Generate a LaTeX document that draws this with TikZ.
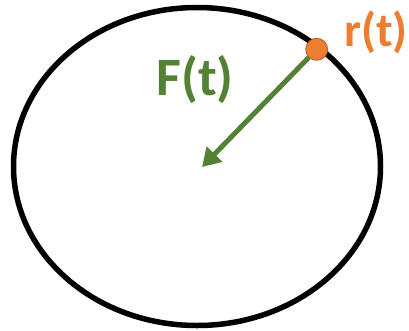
\documentclass[tikz,border=0pt]{standalone}
\usepackage{fontspec}
\setmainfont{Carlito}
\usepackage{tikz}
\usetikzlibrary{arrows.meta}
\definecolor{bodyorange}{RGB}{237,125,49}
\definecolor{forcegreen}{RGB}{84,130,53}

\begin{document}
\begin{tikzpicture}[
    x=1pt, y=-1pt,
    orbit/.style={draw=black, line width=5.5pt},
    body/.style={circle, draw=bodyorange!75!black, line width=0.8pt,
        fill=bodyorange, minimum size=22pt, inner sep=0pt},
    force/.style={draw=forcegreen, line width=5pt,
        -{Triangle[length=18pt, width=21pt]}},
    label/.style={inner sep=0pt, font=\bfseries}
]
\useasboundingbox (0,0) rectangle (409,330);
% orbit and its centre
\coordinate (centre) at (197,166.5);
\draw[orbit] (centre) ellipse [x radius=183.5, y radius=159];
% moving body on the orbit
\node[body] (pos) at (316.7,49.3) {};
\draw[force] (pos) -- (202,167);
% labels
\node[label, text=forcegreen, font=\fontsize{54}{54}\selectfont\bfseries] (flabel) at (195,80) {F(t)};
\node[label, text=bodyorange, font=\fontsize{48}{48}\selectfont\bfseries] (rlabel) at (376,32) {r(t)};
\end{tikzpicture}
\end{document}
